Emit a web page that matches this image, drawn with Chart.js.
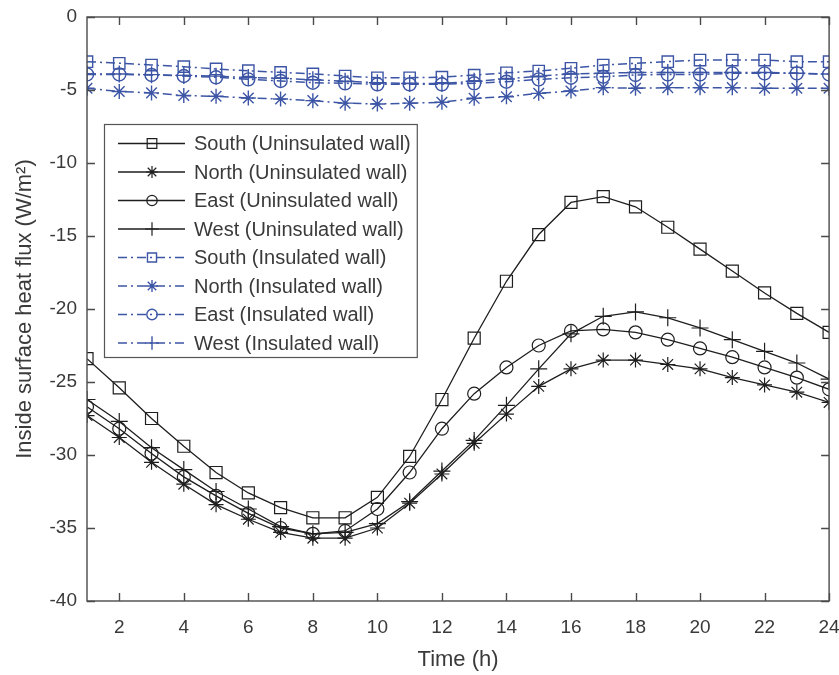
<!DOCTYPE html>
<html lang="en">
<head>
    <meta charset="UTF-8">
    <title>Inside surface heat flux</title>
    <script src="https://cdn.jsdelivr.net/npm/chart.js"></script>
    <style>
        html, body { margin: 0; padding: 0; background: #fff; }
        #wrap { width: 839px; height: 675px; }
    </style>
</head>
<body>
<div id="wrap"><canvas id="fluxChart" width="839" height="675"></canvas></div>
<script>
// hours of the day
const hours = [1, 2, 3, 4, 5, 6, 7, 8, 9, 10, 11, 12, 13, 14, 15, 16, 17, 18, 19, 20, 21, 22, 23, 24];
const xTicks = [2, 4, 6, 8, 10, 12, 14, 16, 18, 20, 22, 24];

// uninsulated walls (W/m2)
const southUnins = [-23.4, -25.4, -27.5, -29.4, -31.2, -32.6, -33.6, -34.3, -34.3, -32.9, -30.1, -26.2,
                    -22.0, -18.1, -14.9, -12.7, -12.3, -13.0, -14.4, -15.9, -17.4, -18.9, -20.3, -21.6];
const northUnins = [-27.3, -28.8, -30.5, -32.0, -33.4, -34.4, -35.3, -35.7, -35.7, -35.0, -33.3, -31.3,
                    -29.2, -27.2, -25.3, -24.1, -23.5, -23.5, -23.8, -24.1, -24.7, -25.2, -25.7, -26.4];
const eastUnins  = [-26.7, -28.2, -29.9, -31.5, -32.8, -34.0, -35.0, -35.4, -35.2, -33.7, -31.2, -28.2,
                    -25.8, -24.0, -22.5, -21.5, -21.4, -21.6, -22.1, -22.7, -23.3, -24.0, -24.7, -25.5];
const westUnins  = [-26.2, -27.7, -29.5, -31.0, -32.5, -33.7, -34.9, -35.4, -35.3, -34.7, -33.2, -31.1,
                    -29.0, -26.6, -24.1, -21.7, -20.5, -20.2, -20.6, -21.3, -22.1, -22.9, -23.7, -24.8];

// insulated walls (W/m2)
const southIns = [-3.06, -3.17, -3.29, -3.40, -3.56, -3.68, -3.79, -3.90, -4.04, -4.16, -4.16, -4.12,
                  -3.98, -3.82, -3.70, -3.51, -3.29, -3.17, -3.06, -2.95, -2.95, -2.95, -3.06, -3.06];
const northIns = [-4.88, -5.10, -5.20, -5.38, -5.43, -5.55, -5.62, -5.73, -5.90, -5.96, -5.90, -5.84,
                  -5.57, -5.46, -5.23, -5.07, -4.84, -4.88, -4.84, -4.84, -4.84, -4.88, -4.88, -4.88];
const eastIns  = [-3.93, -3.93, -3.97, -4.04, -4.13, -4.27, -4.38, -4.50, -4.54, -4.61, -4.61, -4.61,
                  -4.54, -4.43, -4.27, -4.16, -4.09, -3.97, -3.93, -3.93, -3.86, -3.86, -3.86, -3.93];
const westIns  = [-3.90, -3.90, -3.95, -4.00, -4.05, -4.15, -4.20, -4.30, -4.40, -4.50, -4.55, -4.55,
                  -4.40, -4.25, -4.05, -3.90, -3.85, -3.80, -3.80, -3.80, -3.80, -3.80, -3.85, -3.90];

const BLACK = '#1e1e1e';
const BLUE = '#3c55a5';
const TEXT = '#3a3a3a';
const FONT = "'Liberation Sans', Arial, Helvetica, sans-serif";
const dashDot = [9, 4, 2, 4];

function series(label, values, color, style, radius, dash) {
    return {
        label: label,
        data: values.map((v, i) => ({ x: hours[i], y: v })),
        borderColor: color,
        borderWidth: dash ? 1.5 : 1.3,
        borderDash: dash || [],
        pointStyle: style,
        pointRadius: radius,
        pointBorderColor: color,
        pointBackgroundColor: 'rgba(0,0,0,0)',
        pointBorderWidth: dash ? 1.4 : 1.2,
        tension: 0,
        fill: false
    };
}

// box, inward ticks and legend drawn the matlab way
const matlabAxes = {
    id: 'matlabAxes',
    afterDatasetsDraw(chart) {
        const ctx = chart.ctx;
        const ca = chart.chartArea;
        const xs = chart.scales.x, ys = chart.scales.y;
        ctx.save();
        ctx.strokeStyle = '#4a4a4a';
        ctx.lineWidth = 1.4;
        ctx.setLineDash([]);
        ctx.strokeRect(ca.left, ca.top, ca.right - ca.left, ca.bottom - ca.top);
        const tl = 8;
        ctx.beginPath();
        xs.ticks.forEach(t => {
            const px = Math.round(xs.getPixelForValue(t.value)) + 0.5;
            ctx.moveTo(px, ca.bottom); ctx.lineTo(px, ca.bottom - tl);
            ctx.moveTo(px, ca.top); ctx.lineTo(px, ca.top + tl);
        });
        ys.ticks.forEach(t => {
            const py = Math.round(ys.getPixelForValue(t.value)) + 0.5;
            ctx.moveTo(ca.left, py); ctx.lineTo(ca.left + tl, py);
            ctx.moveTo(ca.right, py); ctx.lineTo(ca.right - tl, py);
        });
        ctx.stroke();

        // legend
        const sets = chart.data.datasets;
        const bx = ca.left + 17, by = ca.top + 107;
        const rowH = 28.5;
        ctx.font = '20px ' + FONT;
        let tw = 0;
        sets.forEach(d => { tw = Math.max(tw, ctx.measureText(d.label).width); });
        const bw = 90 + tw + 6, bh = rowH * sets.length + 5;
        ctx.fillStyle = '#fff';
        ctx.fillRect(bx, by, bw, bh);
        ctx.strokeStyle = '#555';
        ctx.lineWidth = 1.2;
        ctx.strokeRect(bx + 0.5, by + 0.5, bw, bh);
        sets.forEach((d, i) => {
            const cy = by + 19.5 + i * rowH;
            ctx.strokeStyle = d.borderColor;
            ctx.lineWidth = d.borderWidth;
            ctx.setLineDash(d.borderDash);
            ctx.beginPath();
            ctx.moveTo(bx + 14, cy); ctx.lineTo(bx + 81, cy);
            ctx.stroke();
            ctx.setLineDash([]);
            ctx.fillStyle = 'rgba(0,0,0,0)';
            ctx.lineWidth = d.pointBorderWidth;
            Chart.helpers.drawPoint(ctx, { pointStyle: d.pointStyle, radius: d.pointRadius * 0.8, rotation: 0, borderWidth: d.pointBorderWidth }, bx + 48, cy);
            ctx.fillStyle = TEXT;
            ctx.textAlign = 'left';
            ctx.textBaseline = 'middle';
            ctx.fillText(d.label, bx + 90, cy + 1);
        });
        ctx.restore();
    }
};

const ctx = document.getElementById('fluxChart').getContext('2d');
new Chart(ctx, {
    type: 'line',
    data: {
        datasets: [
            series('South (Uninsulated wall)', southUnins, BLACK, 'rect', 8.5),
            series('North (Uninsulated wall)', northUnins, BLACK, 'star', 7.5),
            series('East (Uninsulated wall)', eastUnins, BLACK, 'circle', 6.5),
            series('West (Uninsulated wall)', westUnins, BLACK, 'cross', 8.5),
            series('South (Insulated wall)', southIns, BLUE, 'rect', 8, dashDot),
            series('North (Insulated wall)', northIns, BLUE, 'star', 7.5, dashDot),
            series('East (Insulated wall)', eastIns, BLUE, 'circle', 6.5, dashDot),
            series('West (Insulated wall)', westIns, BLUE, 'cross', 8.5, dashDot)
        ]
    },
    options: {
        responsive: false,
        animation: false,
        events: [],
        layout: { padding: { top: 17, right: 9, left: 0, bottom: 0 } },
        plugins: { legend: { display: false }, tooltip: { enabled: false } },
        scales: {
            x: {
                type: 'linear',
                min: 1,
                max: 24,
                afterBuildTicks: s => { s.ticks = xTicks.map(v => ({ value: v })); },
                afterFit: s => { s.height = 74; s.paddingLeft = 0; s.paddingRight = 0; },
                grid: { display: false, drawTicks: false },
                border: { display: false },
                ticks: { color: TEXT, font: { family: FONT, size: 19 }, padding: 15, maxRotation: 0 },
                title: { display: true, text: 'Time (h)', color: TEXT, font: { family: FONT, size: 22 }, padding: { top: 0, bottom: 2 } }
            },
            y: {
                min: -40,
                max: 0,
                ticks: { stepSize: 5, color: TEXT, font: { family: FONT, size: 19 }, padding: 10 },
                afterFit: s => { s.width = 87; s.paddingTop = 0; s.paddingBottom = 0; },
                grid: { display: false, drawTicks: false },
                border: { display: false },
                title: { display: true, text: 'Inside surface heat flux (W/m²)', color: TEXT, font: { family: FONT, size: 22 }, padding: { top: 12, bottom: 0 } }
            }
        }
    },
    plugins: [matlabAxes]
});
</script>
</body>
</html>
